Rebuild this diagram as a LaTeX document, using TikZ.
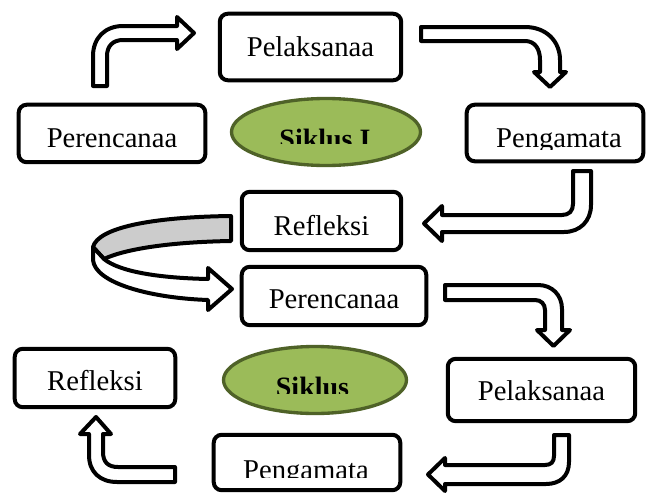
\documentclass[tikz,border=0pt]{standalone}
\usepackage{fontspec}
\setmainfont{Liberation Serif}
\usetikzlibrary{shapes.geometric}
\definecolor{cycfill}{RGB}{155,187,89}
\definecolor{cycline}{RGB}{79,98,40}
\definecolor{backgray}{RGB}{204,204,204}
\begin{document}
\begin{tikzpicture}[x=0.75pt,y=0.75pt,yscale=-1,xscale=1,
  stagebox/.style={draw, line width=3pt, rounded corners=6pt, inner sep=0pt, anchor=base, font=\fontsize{21.5}{26}\selectfont},
  stagetxt/.style={inner sep=0pt, anchor=base, font=\fontsize{21.5}{26}\selectfont},
  cyc/.style={ellipse, draw=cycline, fill=cycfill, line width=2.5pt, inner sep=0pt},
  cyctxt/.style={inner sep=0pt, anchor=base, font=\fontsize{21}{25}\selectfont\bfseries},
  blockarrow/.style={draw, fill=white, line width=3pt, line join=round}]
\path[use as bounding box] (0,0) rectangle (646,496);

% Siklus I
\node[stagebox, minimum width=140pt, text height=31.7pt, text depth=11.4pt] (plan1) at (112,147) {Perencanaa};
\node[stagebox, minimum width=136pt, text height=31.7pt, text depth=18.2pt] (pel1) at (310.5,56) {Pelaksanaa};
\node[stagebox, anchor=center, minimum width=132.4pt, minimum height=42.4pt] (obs1) at (555,133) {};
\begin{scope}
\clip (470,106) rectangle (640,149);
\node[stagetxt] (obs1txt) at (559,147) {Pengamata};
\end{scope}
\node[stagebox, minimum width=119.6pt, text height=32.4pt, text depth=11.4pt] (ref1) at (321.5,235) {Refleksi};
\node[cyc, minimum width=141.75pt, minimum height=50.25pt] (cyc1) at (326,132) {};
\begin{scope}
\clip (260,110) rectangle (400,143);
\node[cyctxt] (cyc1txt) at (325,148.5) {Siklus I};
\end{scope}

% Siklus II
\node[stagebox, minimum width=138.4pt, text height=30.9pt, text depth=12.9pt] (plan2) at (334,308) {Perencanaa};
\node[stagebox, minimum width=140.6pt, text height=30.9pt, text depth=15.9pt] (pel2) at (541.5,400) {Pelaksanaa};
\node[stagebox, anchor=center, minimum width=139.9pt, minimum height=41.6pt] (obs2) at (307,462.5) {};
\begin{scope}
\clip (220,440) rectangle (395,477);
\node[stagetxt] (obs2txt) at (306,479) {Pengamata};
\end{scope}
\node[stagebox, minimum width=120.4pt, text height=30.9pt, text depth=12.9pt] (ref2) at (95,390) {Refleksi};
\node[cyc, minimum width=137.25pt, minimum height=50.25pt] (cyc2) at (315,380) {};
\begin{scope}
\clip (260,360) rectangle (380,393);
\node[cyctxt] (cyc2txt) at (312.5,396) {Siklus};
\end{scope}

% Block arrows
\draw[blockarrow] (93,86) -- (93,56) .. controls (93,38) and (105,26) .. (123,26) -- (177,26) -- (177,17) -- (194,33) -- (177,49) -- (177,40) -- (123,40) .. controls (113,40) and (107,46) .. (107,56) -- (107,86) -- cycle;
\draw[blockarrow] (421,27) -- (525,27) .. controls (546,27) and (560,41) .. (560,60) -- (560,72) -- (566,72) -- (550,87) -- (534,72) -- (540,72) -- (540,60) .. controls (540,49) and (535,41) .. (525,41) -- (421,41) -- cycle;
\draw[blockarrow] (573,171) -- (591,171) -- (591,205) .. controls (591,221) and (580,232) .. (564,232) -- (442,232) -- (442,241) -- (424,223.5) -- (442,206) -- (442,215) -- (562,215) .. controls (569,215) and (573,211) .. (573,204) -- cycle;
\draw[blockarrow, fill=backgray] (231,216) .. controls (150,217) and (98,228) .. (93,247) -- (104,259) .. controls (125,249) and (170,242) .. (231,241) -- cycle;
\draw[blockarrow] (93,247) -- (93,260) .. controls (95,283) and (150,298) .. (208,300) -- (208,310) -- (232,289) -- (208,268) -- (208,279) .. controls (160,278) and (120,272) .. (104,259) -- cycle;
\draw[blockarrow] (445,285) -- (538,285) .. controls (552,285) and (562,295) .. (562,309) -- (562,330) -- (570,330) -- (553.5,346) -- (537,330) -- (545,330) -- (545,310) .. controls (545,304) and (541,300) .. (535,300) -- (445,300) -- cycle;
\draw[blockarrow] (554,435) -- (569,435) -- (569,462) .. controls (569,476) and (560,484) .. (546,484) -- (445,484) -- (445,491) -- (428,474.5) -- (445,458) -- (445,465) -- (545,465) .. controls (551,465) and (554,462) .. (554,456) -- cycle;
\draw[blockarrow] (175,467) -- (118,467) .. controls (108,467) and (103,462) .. (103,452) -- (103,434) -- (111,434) -- (96,417) -- (80,434) -- (89,434) -- (89,455) .. controls (89,472) and (100,482) .. (117,482) -- (175,482) -- cycle;

\end{tikzpicture}
\end{document}
